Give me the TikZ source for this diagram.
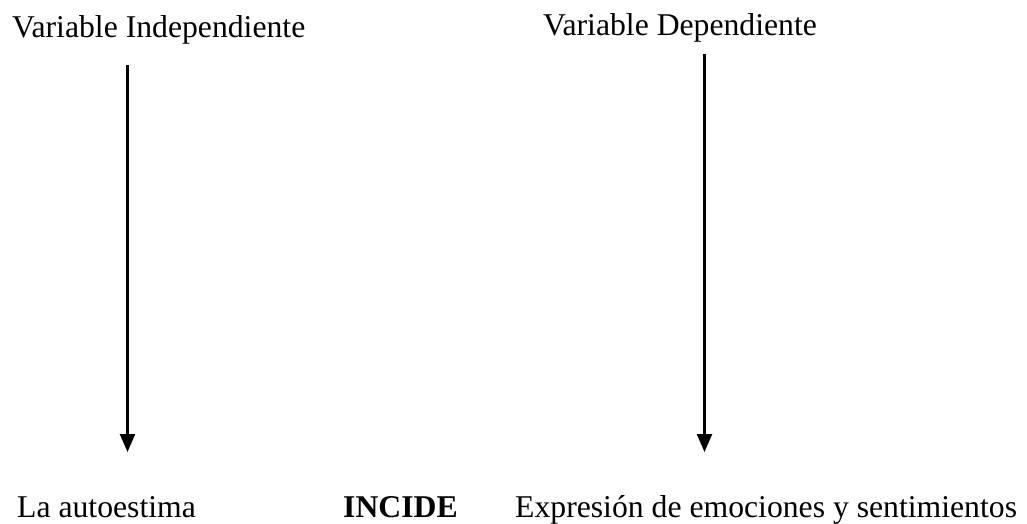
\documentclass[tikz,border=0pt]{standalone}
\usepackage{fontspec}
\setmainfont{Liberation Serif}
\usetikzlibrary{arrows.meta}
\begin{document}
\begin{tikzpicture}[x=1pt,y=-1pt,
  lbl/.style={anchor=base west,inner sep=0pt,font=\fontsize{31.7}{36}\selectfont},
  arr/.style={line width=2.4pt,-{Triangle[width=15pt,length=18pt]}}]
\useasboundingbox (0,0) rectangle (1027,523);
\node[lbl] (vi) at (12,37) {Variable Independiente};
\node[lbl] (vd) at (543,35) {Variable Dependiente};
\node[lbl] (la) at (17,517) {La autoestima};
\node[lbl,font=\fontsize{31.7}{36}\selectfont\bfseries] (inc) at (343,517) {INCIDE};
\node[lbl] (ex) at (515,517) {Expresión de emociones y sentimientos};
\coordinate (a1s) at (127.5,65);
\coordinate (a1e) at (127.5,452);
\coordinate (a2s) at (704.5,54);
\coordinate (a2e) at (704.5,452);
\draw[arr] (a1s) -- (a1e);
\draw[arr] (a2s) -- (a2e);
\end{tikzpicture}
\end{document}
